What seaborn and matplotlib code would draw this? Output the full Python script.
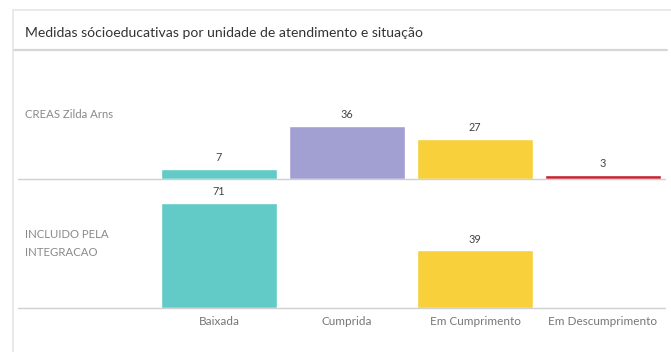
import matplotlib
matplotlib.use("Agg")
import matplotlib.pyplot as plt
from matplotlib.lines import Line2D
import seaborn as sns
import pandas as pd
import numpy as np

# Data
situacoes = ["Baixada", "Cumprida", "Em Cumprimento", "Em Descumprimento"]
unidades = ["CREAS Zilda Arns", "INCLUIDO PELA\nINTEGRACAO"]
creas_vals = [7, 36, 27, 3]
integracao_vals = [71, None, 39, None]
cores = ["#62CBC7", "#A2A0D3", "#F7D03C", "#C8222F"]

sns.set_theme(style="white")
plt.rcParams["font.family"] = ["Lato", "DejaVu Sans"]

W, H = 671, 352
fig = plt.figure(figsize=(W / 100, H / 100), dpi=100)
fig.patch.set_facecolor("white")

def fx(px):
    return px / W

def fy(py):
    return 1 - py / H

# Card frame and title separator
fig.add_artist(Line2D([fx(13), fx(13)], [fy(10), fy(352)], color="#e6e6e6", lw=1.2))
fig.add_artist(Line2D([fx(13), fx(671)], [fy(10), fy(10)], color="#e6e6e6", lw=1.2))
fig.add_artist(Line2D([fx(14), fx(667)], [fy(50), fy(50)], color="#d6d6d6", lw=1.6))
fig.text(fx(25), fy(33), "Medidas sócioeducativas por unidade de atendimento e situação",
         fontsize=10.1, color="#333333", va="center", ha="left")

panel_left, panel_right = 155, 667
rows = [(creas_vals, 50, 179), (integracao_vals, 179, 308)]
ymax = 87

axes = []
for i, (vals, top, bottom) in enumerate(rows):
    ax = fig.add_axes([fx(panel_left), fy(bottom), fx(panel_right - panel_left),
                       (bottom - top) / H])
    df = pd.DataFrame({"situacao": situacoes, "valor": vals})
    df_plot = df.dropna()
    sns.barplot(data=df_plot, x="situacao", y="valor", hue="situacao", order=situacoes,
                hue_order=situacoes, palette=cores, width=0.9, legend=False,
                saturation=1, ax=ax)
    for c in ax.containers:
        ax.bar_label(c, labels=[f"{int(v)}" if not np.isnan(v) else "" for v in c.datavalues],
                     padding=4, fontsize=7.8, color="#444444")
    ax.set_xlim(-0.5, 3.5)
    ax.set_ylim(0, ymax)
    ax.set_ylabel("")
    ax.set_xlabel("")
    ax.set_yticks([])
    for s in ax.spines.values():
        s.set_visible(False)
    ax.patch.set_alpha(0)
    if i == 0:
        ax.set_xticks([])
    else:
        ax.set_xticks(range(len(situacoes)))
        ax.set_xticklabels(situacoes, fontsize=8.5, color="#777777")
        ax.tick_params(axis="x", length=0, pad=6)
    # Row baseline spanning the header column
    fig.add_artist(Line2D([fx(18), fx(665)], [fy(bottom), fy(bottom)],
                          color="#d0d0d0", lw=1.0))
    fig.text(fx(25), fy((top + bottom) / 2), unidades[i], fontsize=8.2,
             color="#8a8a8a", va="center", ha="left", linespacing=1.8)
    axes.append(ax)

fig.savefig("out.png", dpi=100, facecolor="white")
